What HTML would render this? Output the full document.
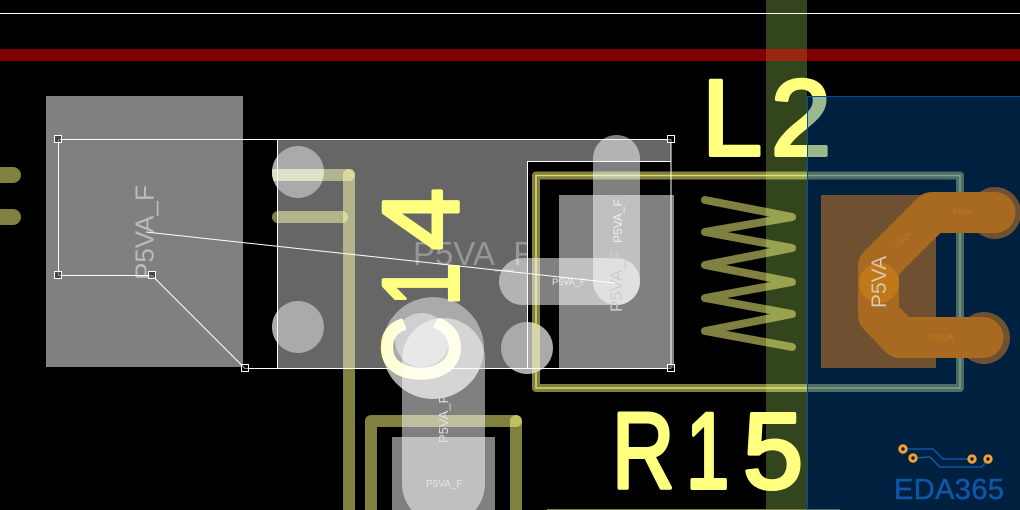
<!DOCTYPE html>
<html><head><meta charset="utf-8"><style>
html,body{margin:0;padding:0;background:#000;width:1020px;height:510px;overflow:hidden}
svg{display:block}
text{font-family:"Liberation Sans",sans-serif}
.silk{fill:#ffff80;stroke:#ffff80;stroke-width:4;stroke-linejoin:round;stroke-linecap:round;font-size:108px}
.w{fill:#fff;opacity:.5}
.h{fill:none;stroke:#fff;stroke-width:1}
</style></head><body>
<svg width="1020" height="510" viewBox="0 0 1020 510" xmlns="http://www.w3.org/2000/svg">
<defs>
<clipPath id="c1"><circle cx="298" cy="172" r="26"/></clipPath>
<clipPath id="c2"><circle cx="527" cy="348" r="26"/></clipPath>
<clipPath id="t1"><rect x="277" y="139" width="250" height="229"/></clipPath>
</defs>
<rect width="1020" height="510" fill="#000"/>
<!-- green band, red band -->
<rect x="766" y="0" width="41" height="510" fill="#33451c"/>
<rect x="0" y="49" width="1020" height="12" fill="#800000"/>
<rect x="766" y="49" width="41" height="12" fill="#9a2510"/>
<rect x="0" y="13" width="1020" height="1" fill="#fff"/>
<!-- gray left pad -->
<rect x="46" y="96" width="197" height="271" fill="#808080"/>
<!-- yellow traces -->
<g fill="none" stroke="#ffff80" stroke-opacity=".5" stroke-linecap="round" stroke-linejoin="round">
<line x1="-10" y1="175" x2="13" y2="175" stroke-width="16"/>
<line x1="-10" y1="217" x2="13" y2="217" stroke-width="16"/>
<line x1="278" y1="175" x2="349" y2="175" stroke-width="12"/>
<line x1="278" y1="217" x2="342" y2="217" stroke-width="12"/>
<line x1="349" y1="175" x2="349" y2="520" stroke-width="12"/>
<path d="M371 520V421H516" stroke-width="12"/>
<line x1="516" y1="421" x2="516" y2="520" stroke-width="12"/>
<path d="M536 175.500H960V388H536Z" stroke-width="8"/>
<path d="M705 200L792 217L705 232L792 248L705 265L792 282L705 298L792 314L705 331L792 347" stroke-width="8"/>
</g>
<rect x="547" y="509" width="293" height="1" fill="#808040"/>
<path d="M536 388V175.500H960V388Z" fill="none" stroke="#ffff80" stroke-opacity=".7" stroke-width="1.500"/>
<!-- selected translucent region -->
<path d="M277 139H671V161H527V368H277Z" fill="#fff" fill-opacity=".4"/>
<!-- pads -->
<rect x="559" y="195" width="115" height="173" fill="#808080"/>
<rect x="392" y="437" width="103" height="73" fill="#808080"/>
<!-- circles -->
<circle cx="298" cy="172" r="26" fill="#aaa"/>
<circle cx="298" cy="327" r="26" fill="#aaa"/>
<rect x="270" y="169" width="60" height="12" fill="#e0e0c8" clip-path="url(#c1)"/>
<circle cx="527" cy="348" r="26" fill="#aaa"/>
<rect x="532" y="320" width="8" height="60" fill="#d5d5aa" clip-path="url(#c2)"/>
<!-- gray labels -->
<text transform="translate(153.500,280) rotate(-90)" font-size="26" fill="#bbb">P5VA_F</text>
<text x="413" y="265" font-size="33" fill="#969696" clip-path="url(#t1)">P5VA_F</text>
<!-- circle under C14 -->
<circle cx="433" cy="348" r="51" fill="#000"/>
<!-- silk text -->
<text class="silk" x="702" y="155">L</text>
<text class="silk" x="771" y="155">2</text>
<text class="silk" transform="translate(612,488) scale(.8,1)">R</text>
<text class="silk" transform="translate(686,488) scale(.72,1)">1</text>
<text class="silk" x="743" y="488">5</text>
<text class="silk" transform="translate(458,382.600) rotate(-90) scale(.85,1)">C</text>
<text class="silk" transform="translate(458,306) rotate(-90) scale(.72,1)">1</text>
<text class="silk" transform="translate(458,250) rotate(-90) scale(1.030,1)">4</text>
<!-- translucent pads over silk -->
<circle cx="433" cy="348" r="51" fill="#fff" opacity=".667"/>
<rect x="402" y="318" width="83" height="207" rx="41.500" class="w"/>
<circle cx="422" cy="340" r="27" fill="#fff" opacity=".45"/>
<rect x="593" y="135" width="47" height="170" rx="23.500" class="w"/>
<rect x="499" y="258" width="141" height="47" rx="23.500" class="w"/>
<!-- small labels -->
<text transform="translate(622,312) rotate(-90)" font-size="17" fill="#ccc">P5VA_F</text>
<text transform="translate(622,243) rotate(-90)" font-size="12" fill="#eee">P5VA_F</text>
<text x="552" y="285" font-size="9.200" fill="#eee">P5VA_F</text>
<text transform="translate(448,443) rotate(-90)" font-size="13" fill="#e0e0e0">P5VA_F</text>
<text x="426" y="487" font-size="10" fill="#e4e4e4">P5VA_F</text>
<!-- blue region -->
<rect x="807.500" y="96.500" width="220" height="420" fill="#0050a0" fill-opacity=".4" stroke="#0050a0" stroke-width="1"/>
<!-- orange pad & tracks -->
<rect x="821" y="195" width="115" height="173" fill="#6f5030"/>
<circle cx="995" cy="213" r="26" fill="#6f5030"/>
<circle cx="984" cy="338" r="26" fill="#6f5030"/>
<path d="M995 212.500H932L878.500 266V315L900 337.500H983" fill="none" stroke="#a86a20" stroke-width="41" stroke-linejoin="round" stroke-linecap="round"/>
<circle cx="879" cy="283" r="20" fill="#c07818"/>
<text transform="translate(886,308) rotate(-90)" font-size="21" fill="#d8c8b0">P5VA</text>
<text x="953" y="215" font-size="8" fill="#c07818">P5VA</text>
<text transform="translate(898,249) rotate(-45)" font-size="8" fill="#c07818">P5VA</text>
<text x="929" y="341" font-size="10" fill="#c07818">P5VA</text>
<!-- selection wires -->
<path class="h" d="M58.500 139.500H671M58.500 139.500V275.500H152L245 368.500H671V139.500M277.500 139.500V368.500M527.500 368.500V161.500H671"/>
<line x1="146" y1="232" x2="615" y2="283" stroke="#fff" stroke-width="1"/>
<g fill="#000" fill-opacity=".45" stroke="#fff" stroke-width="1">
<rect x="54.500" y="135.500" width="7" height="7"/>
<rect x="54.500" y="271.500" width="7" height="7"/>
<rect x="148.500" y="271.500" width="7" height="7"/>
<rect x="241.500" y="364.500" width="7" height="7"/>
<rect x="667.500" y="135.500" width="7" height="7"/>
<rect x="667.500" y="364.500" width="7" height="7"/>
</g>
<!-- logo -->
<g fill="none" stroke="#0d56a8" stroke-width="1.500">
<path d="M903 449H933L943 459H972"/>
<path d="M913 458L930 457L940 467H982L988 459"/>
</g>
<g fill="#002040" stroke="#f0a030" stroke-width="3">
<circle cx="903" cy="449" r="3.200"/>
<circle cx="913" cy="458" r="3.200"/>
<circle cx="972" cy="459" r="3.200"/>
<circle cx="988" cy="459" r="3.200"/>
</g>
<text x="894" y="499" font-size="29" fill="#0d56a8" stroke="#0d56a8" stroke-width=".5" textLength="110">EDA365</text>
</svg>
</body></html>
